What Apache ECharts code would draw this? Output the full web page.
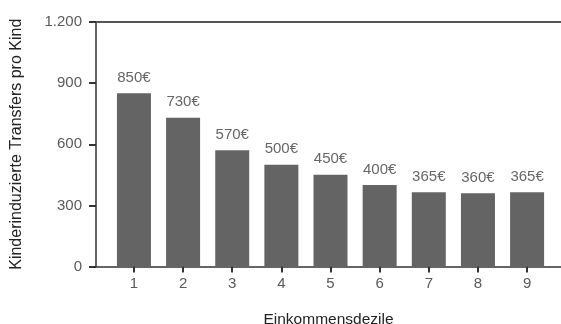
<!DOCTYPE html>
<html><head><meta charset="utf-8">
<script src="https://cdn.jsdelivr.net/npm/echarts@6/dist/echarts.min.js"></script>
<style>html,body{margin:0;padding:0;background:#fff}#c{width:561px;height:324px}</style>
</head><body><div id="c"></div>
<script>
var categories = [1, 2, 3, 4, 5, 6, 7, 8, 9];
var values = [850, 730, 570, 500, 450, 400, 365, 360, 365];
var yTicks = [0, 300, 600, 900, 1200];
var yTitle = 'Kinderinduzierte Transfers pro Kind';
var xTitle = 'Einkommensdezile';

var font = 'Liberation Sans, Arial, sans-serif';
var chart = echarts.init(document.getElementById('c'));
chart.setOption({
  animation: false,
  grid: {left: 96, right: 0, top: 22, bottom: 57.5, outerBoundsMode: 'none', containLabel: false},
  xAxis: [{
    type: 'value', min: 0.228, max: 9.69, position: 'bottom',
    axisLine: {show: true, onZero: false, lineStyle: {color: '#333', width: 1.5}},
    axisTick: {show: true, length: 6, customValues: categories, lineStyle: {color: '#333', width: 2}},
    axisLabel: {customValues: categories, color: '#5a5a5a', fontSize: 15, fontFamily: font, margin: 10},
    splitLine: {show: false},
    name: xTitle, nameLocation: 'middle', nameGap: 45,
    nameTextStyle: {color: '#222', fontSize: 15.5, fontFamily: font}
  }, {
    type: 'value', min: 0, max: 1, position: 'top',
    axisLine: {show: true, onZero: false, lineStyle: {color: '#555', width: 2}},
    axisTick: {show: false}, axisLabel: {show: false}, splitLine: {show: false}
  }],
  yAxis: {
    type: 'value', min: 0, max: 1200, interval: 300,
    axisLine: {show: true, onZero: false, lineStyle: {color: '#333', width: 1.5}},
    axisTick: {show: true, length: 7, lineStyle: {color: '#333', width: 2}},
    axisLabel: {color: '#5a5a5a', fontSize: 15, fontFamily: font, margin: 14,
      formatter: function (v) { return v >= 1000 ? Math.floor(v / 1000) + '.' + String(v % 1000).padStart(3, '0') : String(v); }},
    splitLine: {show: false},
    name: yTitle, nameLocation: 'middle', nameGap: 71, nameRotate: 90,
    nameTextStyle: {color: '#222', fontSize: 16, fontFamily: font}
  },
  series: [{
    type: 'bar', xAxisIndex: 0, barWidth: 34,
    data: categories.map(function (c, i) { return [c, values[i]]; }),
    itemStyle: {color: '#646464'},
    label: {show: true, position: 'top', distance: 8, color: '#666', fontSize: 15, fontFamily: font,
      formatter: function (p) { return p.value[1] + '€'; }}
  }]
});
</script></body></html>
